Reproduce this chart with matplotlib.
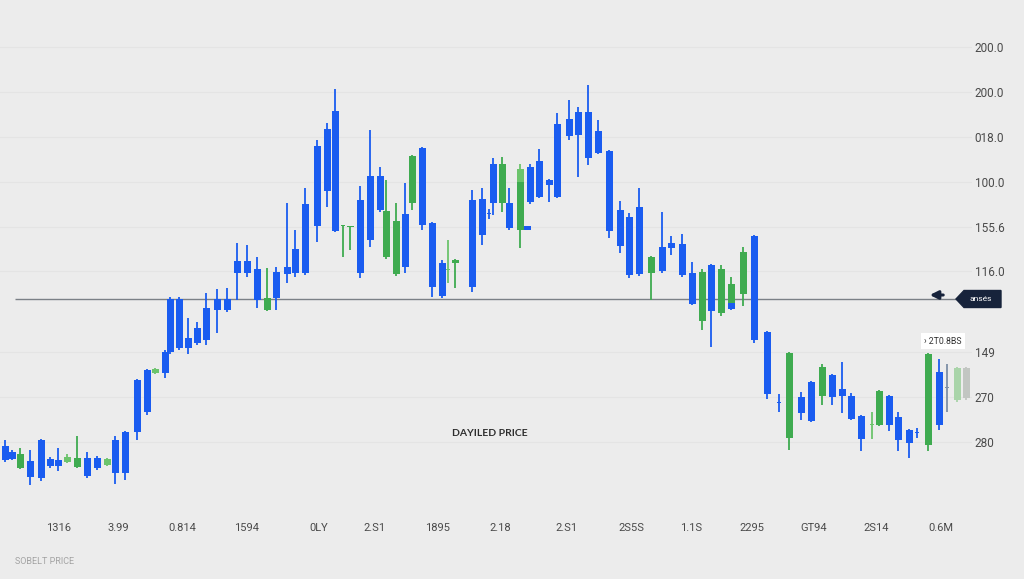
import numpy as np
import matplotlib
matplotlib.use("Agg")
import matplotlib.pyplot as plt
from matplotlib.patches import Polygon

# candle data (position along the time axis, open, high, low, close, colour kind)
pos = [5, 12, 20, 30, 41, 50, 58, 67, 77, 87, 97, 107, 115, 125, 137, 147, 155, 165, 170, 179,
       188, 197, 206, 217, 227, 237, 247, 257, 267, 276, 287, 295, 305, 317, 327, 335, 343, 350, 360, 370,
       380, 386, 396, 405, 412, 422, 432, 442, 448, 455, 472, 472, 482, 489, 493, 502, 509, 520, 520, 527,
       530, 539, 549, 557, 569, 578, 588, 598, 609, 620, 629, 639, 651, 662, 671, 682, 692, 702, 711, 721,
       731, 731, 743, 754, 767, 779, 789, 801, 811, 822, 832, 842, 851, 861, 872, 879, 889, 898, 909, 917,
       928, 939, 947, 957, 966]
opens = [154, 148, 132, 139, 160, 141, 140, 138, 133, 142, 142, 135, 160, 168, 220, 230, 227, 248, 301, 301,
         262, 272, 292, 301, 301, 339, 339, 331, 290, 328, 333, 351, 396, 454, 471, 489, 374, 373, 400, 424,
         424, 343, 326, 386, 397, 452, 377, 337, 330, 337, 358, 358, 401, 386, 436, 436, 397, 418, 418, 370,
         398, 439, 415, 476, 481, 488, 488, 469, 449, 390, 383, 393, 327, 353, 357, 356, 327, 279, 335, 287,
         297, 297, 306, 364, 268, 197, 162, 203, 218, 204, 225, 211, 204, 184, 175, 175, 204, 183, 170, 167,
         155, 228, 212, 200, 202]
highs = [160, 150, 152, 150, 161, 143, 152, 146, 164, 148, 144, 142, 164, 169, 221, 231, 232, 250, 303, 303,
         282, 278, 307, 311, 312, 357, 355, 343, 332, 333, 397, 370, 412, 460, 477, 511, 374, 374, 414, 470,
         433, 420, 397, 417, 445, 453, 378, 340, 360, 341, 410, 358, 412, 391, 442, 443, 412, 436, 418, 374,
         436, 451, 421, 487, 500, 493, 515, 480, 450, 399, 387, 412, 344, 388, 364, 366, 338, 331, 336, 335,
         323, 297, 353, 365, 269, 206, 248, 208, 219, 236, 226, 238, 207, 185, 188, 210, 205, 188, 171, 172,
         247, 241, 236, 233, 233]
lows = [138, 140, 131, 115, 119, 132, 129, 137, 132, 122, 130, 134, 116, 120, 160, 185, 226, 222, 246, 250,
        246, 255, 255, 267, 288, 300, 323, 292, 289, 290, 317, 323, 325, 358, 393, 368, 343, 350, 322, 353,
        388, 341, 324, 327, 390, 370, 303, 302, 317, 312, 358, 308, 355, 381, 385, 388, 370, 418, 352, 370,
        396, 402, 398, 402, 460, 423, 435, 446, 362, 347, 322, 324, 300, 327, 345, 323, 295, 270, 253, 284,
        297, 290, 294, 257, 201, 188, 150, 180, 178, 195, 195, 187, 180, 149, 161, 174, 169, 149, 142, 162,
        149, 170, 188, 198, 200]
closes = [140, 141, 146, 123, 122, 134, 134, 143, 142, 124, 132, 141, 127, 127, 168, 188, 231, 227, 248, 252,
          252, 257, 260, 290, 290, 327, 327, 300, 302, 302, 326, 327, 327, 374, 409, 369, 374, 374, 327, 360,
          390, 389, 379, 333, 444, 375, 313, 304, 330, 340, 400, 313, 365, 386, 397, 397, 372, 431, 370, 374,
          433, 403, 420, 403, 464, 465, 442, 447, 369, 354, 325, 326, 343, 329, 352, 325, 296, 328, 289, 331,
          316, 291, 348, 260, 206, 197, 247, 187, 179, 233, 203, 204, 181, 161, 175, 209, 175, 160, 157, 167,
          246, 175, 212, 232, 232]
kinds = list("bbgbbbblgbblbbbblbbb"
             "bbbbbbbbgbbbbbbbggbb"
             "bggbgbbblgbbbbbgblgb"
             "bbbbbbbbbbbbgbbbbgbg"
             "gbgbbbgbbgbbbblgbbbb"
             "gbmps")

ytick_vals = [553, 508, 463, 418, 373, 329, 248, 203, 158]
ytick_labels = ["200.0", "200.0", "018.0", "100.0", "155.6", "116.0", "149", "270", "280"]
xtick_vals = [59, 118, 182, 247, 319, 374, 438, 500, 567, 631, 691, 752, 814, 876, 941]
xtick_labels = ["1316", "3.99", "0.814", "1594", "0LY", "2.S1", "1895", "2.18", "2.S1",
                "2S5S", "1.1S", "2295", "GT94", "2S14", "0.6M"]
ref_level = 301

palette = {"b": "#1a5cf0", "g": "#3fab50", "l": "#6cc46c",
           "m": "#7d8ea6", "p": "#a9d4a9", "s": "#c2c6c2"}
bg = "#ececec"

fig = plt.figure(figsize=(10.24, 5.79), dpi=100, facecolor=bg)
ax = fig.add_axes([0, 64 / 579, 972 / 1024, 515 / 579], facecolor=bg)
ax.set_xlim(0, 972)
ax.set_ylim(85, 600)

for sp in ax.spines.values():
    sp.set_visible(False)

ax.set_yticks(ytick_vals)
ax.set_yticklabels(ytick_labels, fontfamily="Roboto", fontsize=8.5, color="#4a4a4a")
ax.yaxis.tick_right()
ax.tick_params(axis="y", length=0, pad=2)
ax.set_xticks(xtick_vals)
ax.set_xticklabels(xtick_labels, fontfamily="Roboto", fontsize=8, color="#4a4a4a")
ax.tick_params(axis="x", length=0, pad=6)
ax.grid(axis="y", color="#e4e4e4", lw=0.8)
ax.set_axisbelow(True)

# reference level line
ax.hlines(ref_level, 15, 958, color="#7b8086", lw=1.0, zorder=1, clip_on=False)

cols = [palette[k] for k in kinds]
o = np.array(opens, float)
c = np.array(closes, float)
body_lo = np.minimum(o, c)
body_h = np.maximum(np.abs(c - o), 0.8)
bw = np.where(np.abs(c - o) < 1, 4, 7)
ax.vlines(pos, lows, highs, colors=cols, lw=1.3, zorder=2)
ax.bar(pos, body_h, bottom=body_lo, width=bw, color=cols, zorder=3)

# price tag at the right end of the line
tag = Polygon([(956, ref_level), (964, ref_level + 8.5), (1001, ref_level + 8.5),
               (1001, ref_level - 8.5), (964, ref_level - 8.5)],
              closed=True, color="#17233b", clip_on=False, zorder=5)
ax.add_patch(tag)
ax.text(981, ref_level, "ansés", color="white", fontsize=6, ha="center", va="center",
        fontfamily="Roboto", zorder=6, clip_on=False)
ax.annotate("", xy=(927, ref_level + 4), xytext=(946, ref_level + 4),
            arrowprops=dict(arrowstyle="-|>", color="#17233b", lw=2.2, mutation_scale=12))

ax.text(943, 600 - 341, "› 2T0.8BS", fontsize=6.3, color="#333333", ha="center", va="center",
        fontfamily="Roboto", zorder=6,
        bbox=dict(boxstyle="square,pad=0.35", fc="white", ec="none"))

ax.text(490, 600 - 434, "DAYILED PRICE", fontsize=7.5, color="#2e2e2e", ha="center",
        va="center", fontfamily="Lato", fontweight="bold")
fig.text(15 / 1024, (579 - 561) / 579, "SOBELT PRICE", fontsize=6.5, color="#a3a3a3",
         ha="left", va="center", fontfamily="Roboto")

fig.savefig("out.png", dpi=100, facecolor=bg)
